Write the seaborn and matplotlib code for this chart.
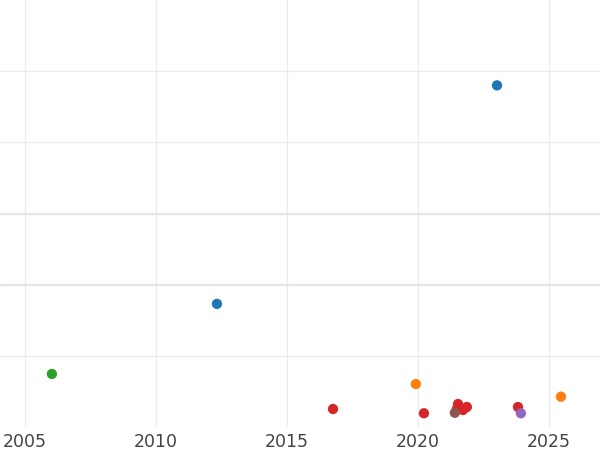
import pandas as pd
import numpy as np
import matplotlib
matplotlib.use("Agg")
import matplotlib.pyplot as plt
import seaborn as sns

# values (y has no labels, units = grid steps)
years = [2023.02, 2012.33, 2006.03, 2019.92, 2025.46, 2016.76, 2020.23,
         2021.53, 2021.49, 2021.72, 2021.87, 2021.41, 2023.82, 2023.93]
values = [4.80, 1.73, 0.745, 0.604, 0.426, 0.253, 0.193,
          0.323, 0.253, 0.239, 0.281, 0.20, 0.281, 0.193]
groups = ["A", "A", "C", "B", "B", "D", "D",
          "D", "D", "D", "D", "F", "D", "E"]
group_order = ["A", "B", "C", "D", "E", "F"]

df = pd.DataFrame({"year": years, "value": values, "group": groups})

sns.set_style("whitegrid", {"grid.color": "#ebebeb", "axes.edgecolor": "white"})
plt.rcParams['font.family'] = ['DejaVu Sans']

fig = plt.figure(figsize=(6, 4.5), dpi=100)
ax = fig.add_axes([0, 23 / 450, 1, 1 - 23 / 450])

sns.scatterplot(data=df, x="year", y="value", hue="group", hue_order=group_order,
                palette="tab10", s=55, linewidth=0, legend=False, ax=ax, zorder=3)

ax.set_xlim(2004.05, 2026.95)
ax.set_ylim(0, 6)
ax.set_xticks([2005, 2010, 2015, 2020, 2025])
ax.set_yticks([1, 2, 3, 4, 5])
ax.set_yticklabels([])
ax.grid(True, color="#ebebeb", linewidth=0.9)
for yv in [2, 3]:
    ax.axhline(yv, color="#e6e6e6", linewidth=1.6, zorder=1)
ax.tick_params(axis="x", length=0, pad=4, labelsize=12.5, labelcolor="#444444")
ax.tick_params(axis="y", length=0)
ax.set_xlabel("")
ax.set_ylabel("")
for s in ax.spines.values():
    s.set_visible(False)

fig.savefig("out.png", dpi=100)
